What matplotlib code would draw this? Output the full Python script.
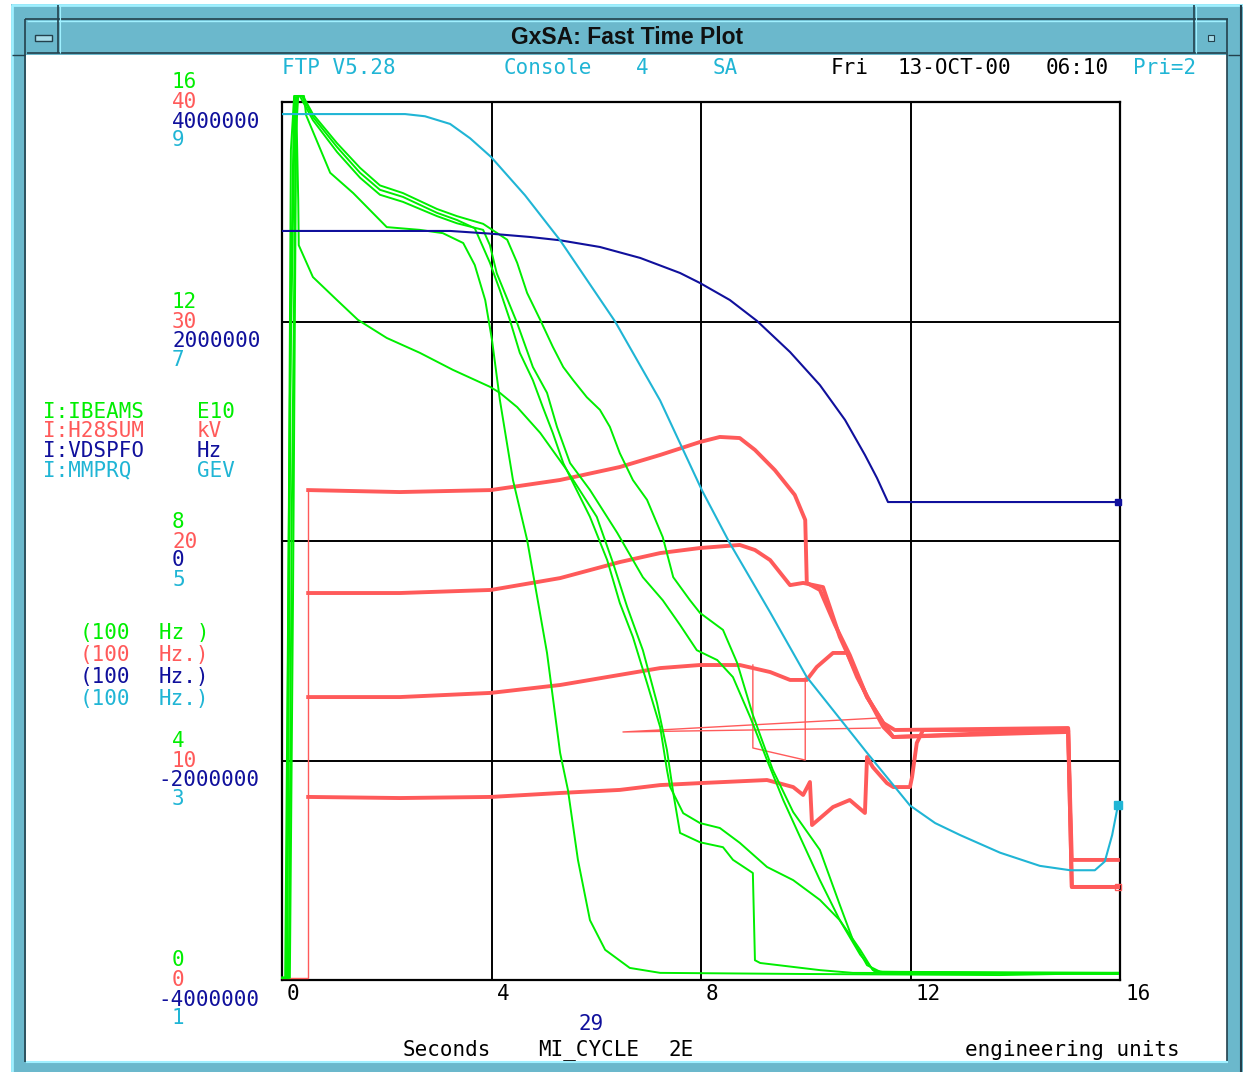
import matplotlib
matplotlib.use("Agg")
import matplotlib.pyplot as plt
from matplotlib.patches import Rectangle
from matplotlib.lines import Line2D
from matplotlib import transforms

# Figure size in pixels
W, H = 1243, 1072
DPI = 100

GREEN = '#00ee00'
RED = '#ff5a5a'
NAVY = '#10109c'
CYAN = '#20b5d5'
TEAL = '#6bb8cc'
LIGHT = '#a0f0ff'
DARK = '#23404c'
MONO = 'DejaVu Sans Mono'

###############################################################################
# Data
###############################################################################

x_ticks = [0, 4, 8, 12, 16]
green_ticks = [0, 4, 8, 12, 16]
red_ticks = [0, 10, 20, 30, 40]
blue_ticks = [-4000000, -2000000, 0, 2000000, 4000000]
cyan_ticks = [1, 3, 5, 7, 9]

# I:IBEAMS (E10) - five overlaid cycles
ibeams_a_t = [0, 0.15, 0.21, 0.27, 0.31, 0.42, 0.46, 0.92, 1.36, 2.00, 2.63, 3.07, 3.46, 3.68, 3.88, 4.01,
              4.16, 4.41, 4.68, 5.06, 5.31, 5.46, 5.65, 5.88, 6.17, 6.64, 7.22, 9.89, 13.71, 15.96]
ibeams_a = [0.04, 0.04, 6.92, 15.49, 16.11, 16.11, 15.76, 14.71, 14.34, 13.72, 13.67, 13.61, 13.43, 13.03, 12.39, 11.66,
            10.57, 9.11, 8.02, 5.96, 4.14, 3.46, 2.19, 1.09, 0.55, 0.22, 0.13, 0.11, 0.09, 0.13]

ibeams_b_t = [0, 0.13, 0.19, 0.27, 0.31, 0.38, 0.59, 1.05, 1.49, 1.87, 2.31, 2.96, 3.34, 3.68, 3.97, 4.16,
              4.35, 4.54, 4.79, 4.98, 5.17, 5.37, 5.88, 6.21, 6.45, 6.70, 6.97, 7.22, 7.35, 7.41, 7.66,
              7.98, 8.36, 8.74, 9.26, 9.76, 10.27, 10.65, 11.04, 11.28, 11.55, 15.96]
ibeams_b = [0.04, 0.04, 8.75, 16.04, 16.11, 16.11, 15.73, 15.18, 14.71, 14.40, 14.27, 13.98, 13.85, 13.70, 13.07, 12.57,
            12.03, 11.43, 10.93, 10.44, 9.97, 9.42, 8.44, 7.65, 6.87, 6.25, 5.41, 4.61, 3.83, 3.52, 3.04,
            2.86, 2.77, 2.50, 2.06, 1.82, 1.46, 1.09, 0.55, 0.18, 0.13, 0.13]

ibeams_c_t = [0, 0.06, 0.15, 0.25, 0.34, 0.59, 1.05, 1.49, 1.87, 2.31, 2.96, 3.34, 3.84, 3.97, 4.10, 4.49,
              4.79, 5.06, 5.25, 5.50, 5.88, 6.40, 6.89, 7.27, 7.60, 7.92, 8.31, 8.61, 8.94, 9.26, 9.57,
              9.89, 10.27, 10.65, 11.04, 11.32, 15.96]
ibeams_c = [0.04, 0.04, 10.57, 16.07, 16.11, 15.67, 15.09, 14.62, 14.31, 14.18, 13.92, 13.79, 13.67, 13.39, 12.88, 11.97,
            11.17, 10.70, 10.08, 9.42, 8.93, 8.15, 7.34, 6.92, 6.47, 6.01, 5.83, 5.52, 4.79, 4.01, 3.28,
            2.61, 1.82, 1.09, 0.46, 0.15, 0.11]

ibeams_d_t = [0, 0.10, 0.17, 0.23, 0.40, 0.59, 1.05, 1.49, 1.87, 2.31, 2.96, 3.34, 3.84, 4.30, 4.49, 4.68,
              4.93, 5.17, 5.37, 5.56, 5.82, 6.07, 6.26, 6.45, 6.70, 6.97, 7.27, 7.47, 7.79, 7.98, 8.42,
              8.69, 8.99, 9.37, 9.76, 10.27, 10.65, 10.90, 11.17, 11.42, 15.96]
ibeams_d = [0.04, 0.04, 12.39, 16.11, 16.11, 15.78, 15.25, 14.80, 14.48, 14.34, 14.05, 13.92, 13.78, 13.49, 13.07, 12.52,
            12.03, 11.54, 11.17, 10.93, 10.62, 10.39, 10.08, 9.60, 9.11, 8.75, 8.07, 7.34, 6.92, 6.69, 6.38,
            5.78, 4.83, 3.83, 3.06, 2.37, 1.37, 0.73, 0.27, 0.15, 0.13]

ibeams_e_t = [0, 0.08, 0.11, 0.17, 0.23, 0.27, 0.31, 0.32, 0.59, 1.05, 1.45, 2.00, 2.63, 3.26, 3.97, 4.16,
              4.49, 4.93, 5.44, 6.01, 6.32, 6.59, 6.89, 7.16, 7.35, 7.47, 7.60, 7.98, 8.42, 8.61, 8.99,
              9.03, 9.13, 10.27, 10.90, 15.96]
ibeams_e = [0.04, 0.04, 5.10, 15.13, 16.07, 16.07, 14.21, 13.39, 12.81, 12.39, 12.03, 11.70, 11.43, 11.12, 10.81, 10.70,
            10.44, 9.97, 9.29, 8.44, 7.60, 6.80, 6.01, 5.05, 4.19, 3.41, 2.68, 2.51, 2.42, 2.19, 1.95,
            0.36, 0.31, 0.18, 0.13, 0.11]

# I:H28SUM (kV) - four overlaid cycles plus two wrap-around glitches
h28_rise_t = [0, 0.45, 0.50, 0.50]
h28_rise = [0.1, 0.1, 0.1, 22.32]

h28_a_t = [0.50, 2.25, 3.99, 5.31, 6.45, 7.22, 7.98, 8.36, 8.74, 9.03, 9.41, 9.79, 9.99,
           10.02, 10.27, 10.56, 10.84, 11.17, 11.48, 11.70, 15.01, 15.08, 15.96]
h28_a = [22.32, 22.23, 22.32, 22.78, 23.37, 23.92, 24.51, 24.74, 24.69, 24.15, 23.23, 22.10, 20.96,
         18.09, 17.77, 16.17, 14.81, 12.89, 11.71, 11.39, 11.48, 5.47, 5.47]

h28_b_t = [0.50, 2.25, 3.99, 5.31, 6.45, 7.22, 7.98, 8.74, 9.03, 9.32, 9.70, 9.95, 10.33, 10.46, 10.65, 10.79,
           11.17, 11.48, 11.67, 15.01, 15.08, 15.96]
h28_b = [17.63, 17.63, 17.77, 18.31, 19.04, 19.45, 19.68, 19.82, 19.59, 19.13, 17.99, 18.09, 17.90, 16.99, 15.63, 14.90,
         12.89, 11.71, 11.07, 11.30, 4.24, 4.24]

h28_c_t = [0.50, 2.25, 3.99, 5.31, 6.45, 7.22, 7.98, 8.74, 9.32, 9.70, 10.02, 10.21, 10.52, 10.79, 10.98, 11.48,
           11.67, 15.01]
h28_c = [12.89, 12.89, 13.08, 13.44, 13.90, 14.21, 14.35, 14.35, 14.03, 13.67, 13.67, 14.26, 14.90, 14.90, 13.80, 11.53,
         11.07, 11.39]

h28_d_t = [0.50, 2.25, 3.99, 5.31, 6.45, 7.22, 7.98, 9.26, 9.76, 9.95, 10.08, 10.12, 10.52, 10.84, 11.13, 11.17,
           11.28, 11.55, 11.67, 11.99, 12.03, 12.12, 12.24, 15.01, 15.08, 15.96]
h28_d = [8.34, 8.29, 8.34, 8.52, 8.66, 8.88, 8.97, 9.11, 8.79, 8.43, 9.02, 7.06, 7.88, 8.20, 7.61, 10.16,
         9.70, 8.97, 8.79, 8.79, 9.25, 10.80, 11.39, 11.39, 4.24, 4.24]

h28_wrap1_t = [11.42, 6.51, 11.42]
h28_wrap1 = [11.94, 11.30, 11.48]
h28_wrap2_t = [8.99, 8.99, 9.99, 9.99]
h28_wrap2 = [14.35, 10.57, 10.02, 13.76]

# I:VDSPFO (Hz)
vdspfo_t = [0, 3.21, 3.99, 4.74, 5.31, 6.07, 6.84, 7.60, 7.98, 8.55, 9.07, 9.70, 10.27, 10.75, 11.13,
            11.36, 11.57, 15.96]
vdspfo = [2825000, 2825000, 2800000, 2770000, 2740000, 2679000, 2579000, 2442000, 2351000, 2196000,
          2005000, 1722000, 1421000, 1103000, 784000, 574000, 355000, 355000]

# I:MMPRQ (GEV)
mmprq_t = [0, 2.35, 2.73, 3.21, 3.59, 3.99, 4.64, 5.31, 6.36, 7.22, 8.02, 8.55, 9.32, 10.02, 11.17,
           11.99, 12.47, 12.95, 13.71, 14.47, 15.05, 15.52, 15.71, 15.85, 15.96]
mmprq = [8.89, 8.89, 8.87, 8.80, 8.67, 8.50, 8.15, 7.74, 7.00, 6.28, 5.46, 4.98, 4.35, 3.76, 3.07,
         2.59, 2.43, 2.32, 2.16, 2.04, 2.00, 2.00, 2.08, 2.32, 2.59]

###############################################################################
# Window frame
###############################################################################

fig = plt.figure(figsize=(W / DPI, H / DPI), dpi=DPI)
fig.patch.set_facecolor('white')


def fx(px):
    return px / W


def fy(py):
    return 1 - py / H


# frame pieces sit below the axes (zorder < 0)
def box(x0, y0, x1, y1, **kw):
    fig.add_artist(Rectangle((fx(x0), fy(y1)), (x1 - x0) / W, (y1 - y0) / H,
                             transform=fig.transFigure, zorder=-5, **kw))


def seg(x0, y0, x1, y1, color, lw=1.0):
    fig.add_artist(Line2D([fx(x0), fx(x1)], [fy(y0), fy(y1)], transform=fig.transFigure,
                          color=color, lw=lw, solid_capstyle='butt', zorder=-4))


box(11, 4, 1243, 1072, facecolor=TEAL, edgecolor='none')
seg(11, 5, 1243, 5, LIGHT, 2)
seg(12, 5, 12, 1072, LIGHT, 2)
seg(1241, 5, 1241, 1072, DARK, 1.5)
# title bar
seg(25, 19, 1228, 19, DARK, 1.2)
seg(27, 21, 1226, 21, LIGHT, 1)
seg(27, 53, 1226, 53, DARK, 1.2)
seg(58, 5, 58, 53, DARK, 1.2)
seg(60, 5, 60, 53, LIGHT, 0.8)
seg(1194, 5, 1194, 53, DARK, 1.2)
seg(1196, 5, 1196, 53, LIGHT, 0.8)
seg(25, 19, 25, 1062, DARK, 1.2)
seg(1227, 19, 1227, 1062, DARK, 1.2)
seg(12, 55, 25, 55, DARK, 1)
seg(1228, 55, 1241, 55, DARK, 1)
box(35, 35, 52, 41, facecolor='#a8dce8', edgecolor=DARK, lw=1)
box(1208, 35, 1214, 41, facecolor='#a8dce8', edgecolor=DARK, lw=0.8)
# content area
box(26, 55, 1227, 1061, facecolor='white', edgecolor='none')
seg(26, 1062, 1228, 1062, LIGHT, 1.5)

fig.text(fx(627), fy(38), 'GxSA: Fast Time Plot', ha='center', va='center',
         family='Liberation Sans', weight='bold', fontsize=16.5, color='#101010')

###############################################################################
# Plot area: one scale per device, all sharing the time axis
###############################################################################

ax = fig.add_axes([fx(282), fy(980), (1120 - 282) / W, (980 - 102) / H])
ax.set_xlim(0, 16)
ax.set_ylim(0, 16)
ax.set_xticks(x_ticks)
ax.set_yticks(green_ticks)
ax.tick_params(length=0, labelbottom=False, labelleft=False)
ax.grid(True, color='black', lw=1.4)
for s in ax.spines.values():
    s.set_color('black')
    s.set_linewidth(1.6)

ax_red = ax.twinx()
ax_red.set_ylim(red_ticks[0], red_ticks[-1])
ax_green = ax.twinx()
ax_green.set_ylim(green_ticks[0], green_ticks[-1])
ax_blue = ax.twinx()
ax_blue.set_ylim(blue_ticks[0], blue_ticks[-1])
ax_cyan = ax.twinx()
ax_cyan.set_ylim(cyan_ticks[0], cyan_ticks[-1])
for a in (ax_red, ax_green, ax_blue, ax_cyan):
    a.set_axis_off()
    a.set_xlim(0, 16)

# red traces (noisy kV signal drawn as a thick band)
ax_red.plot(h28_rise_t, h28_rise, color=RED, lw=1.0)
for tt, vv in [(h28_a_t, h28_a), (h28_b_t, h28_b), (h28_c_t, h28_c), (h28_d_t, h28_d)]:
    ax_red.plot(tt, vv, color=RED, lw=2.8)
for tt, vv in [(h28_wrap1_t, h28_wrap1), (h28_wrap2_t, h28_wrap2)]:
    ax_red.plot(tt, vv, color=RED, lw=1.0)
ax_red.plot([h28_b_t[-1]], [h28_b[-1]], marker='s', ms=4, mfc='none', mec=RED, clip_on=False)

# green traces
for tt, vv in [(ibeams_a_t, ibeams_a), (ibeams_b_t, ibeams_b), (ibeams_c_t, ibeams_c),
               (ibeams_d_t, ibeams_d), (ibeams_e_t, ibeams_e)]:
    ax_green.plot(tt, vv, color=GREEN, lw=1.4, clip_on=False)

# blue and cyan
ax_blue.plot(vdspfo_t, vdspfo, color=NAVY, lw=1.5)
ax_blue.plot([vdspfo_t[-1]], [vdspfo[-1]], marker='s', ms=4, color=NAVY, clip_on=False)
ax_cyan.plot(mmprq_t, mmprq, color=CYAN, lw=1.5)
ax_cyan.plot([mmprq_t[-1]], [mmprq[-1]], marker='s', ms=6, color=CYAN, clip_on=False)

###############################################################################
# Texts
###############################################################################

txt = dict(family=MONO, fontsize=15, va='center')


def put(px, py, s, color):
    fig.text(fx(px), fy(py + 1.5), s, color=color, ha='left', **txt)


# header line
put(282, 67, 'FTP V5.28', CYAN)
put(504, 67, 'Console', CYAN)
put(636, 67, '4', CYAN)
put(713, 67, 'SA', CYAN)
put(831, 67, 'Fri', 'black')
put(898, 67, '13-OCT-00', 'black')
put(1046, 67, '06:10', 'black')
put(1133, 67, 'Pri=2', CYAN)

# stacked scale labels on the left, one colour per device
for a, ticks, color, dy in [(ax_green, green_ticks, GREEN, 21), (ax_red, red_ticks, RED, 1),
                            (ax_blue, blue_ticks, NAVY, -18), (ax_cyan, cyan_ticks, CYAN, -37)]:
    for v in ticks:
        dx = -124 if v < 0 else -110
        tr = transforms.offset_copy(a.get_yaxis_transform(), fig=fig, x=dx, y=dy - 1.5, units='dots')
        a.text(0, v, str(v), transform=tr, color=color, ha='left', clip_on=False, **txt)

# device legend
legend_rows = [('I:IBEAMS', 'E10', GREEN), ('I:H28SUM', 'kV', RED),
               ('I:VDSPFO', 'Hz', NAVY), ('I:MMPRQ', 'GEV', CYAN)]
for i, (name, unit, color) in enumerate(legend_rows):
    y = 410 + i * 19.7
    put(43, y, name, color)
    put(197, y, unit, color)

rate_rows = [('Hz )', GREEN), ('Hz.)', RED), ('Hz.)', NAVY), ('Hz.)', CYAN)]
for i, (unit, color) in enumerate(rate_rows):
    y = 632 + i * 21.7
    put(80, y, '(100', color)
    put(159, y, unit, color)

# time axis labels
for v in x_ticks:
    tr = transforms.offset_copy(ax.get_xaxis_transform(), fig=fig, x=5, y=-14.5, units='dots')
    ax.text(v, 0, str(v), transform=tr, color='black', ha='left', clip_on=False, **txt)

put(578, 1022, '29', NAVY)
put(403, 1048, 'Seconds', 'black')
put(538, 1048, 'MI_CYCLE', 'black')
put(669, 1048, '2E', 'black')
put(965, 1048, 'engineering units', 'black')

fig.savefig('out.png', dpi=DPI)
